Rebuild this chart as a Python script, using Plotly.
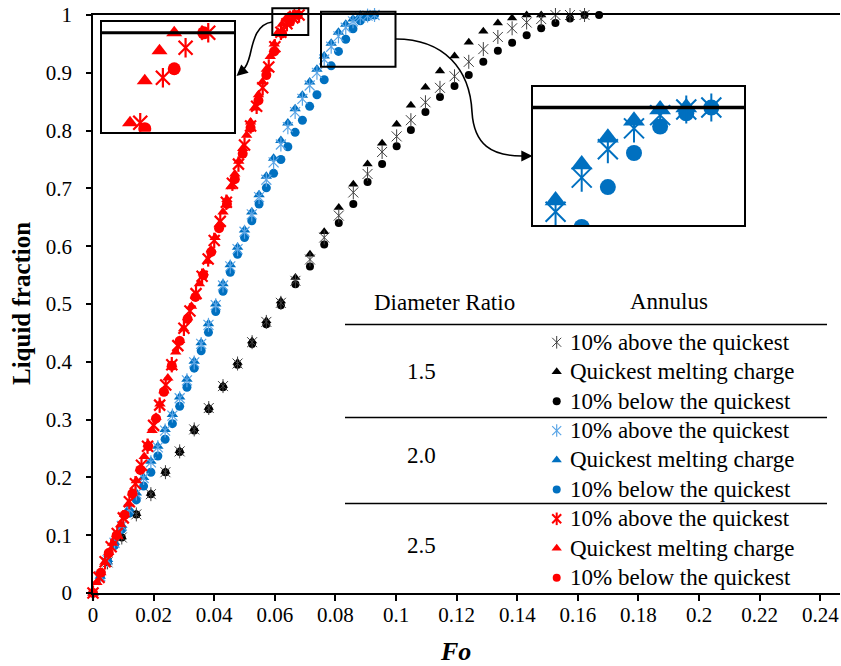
import plotly.graph_objects as go

# ---------------- data ----------------
# Diameter ratio 1.5 (black)
fo_black = [0, 0.0048, 0.0095, 0.0143, 0.0191, 0.0239, 0.0286, 0.0334, 0.0382, 0.0429,
            0.0477, 0.0525, 0.0572, 0.0620, 0.0668, 0.0716, 0.0763, 0.0811, 0.0859, 0.0906,
            0.0954, 0.1002, 0.1049, 0.1097, 0.1145, 0.1193, 0.1240, 0.1288, 0.1336, 0.1383,
            0.1431, 0.1479, 0.1526, 0.1574, 0.1622, 0.1670]
lf_black_above = [0, 0.053, 0.096, 0.136, 0.171, 0.209, 0.245, 0.283, 0.320, 0.358, 0.397, 0.434,
                  0.469, 0.502, 0.540, 0.577, 0.615, 0.653, 0.693, 0.725, 0.763, 0.790, 0.818,
                  0.849, 0.874, 0.894, 0.919, 0.941, 0.962, 0.977, 0.987, 0.993, 1.0, 1.0, 1.0]
lf_black_quick = [0, 0.054, 0.097, 0.137, 0.172, 0.210, 0.246, 0.284, 0.321, 0.359, 0.399, 0.436,
                  0.471, 0.505, 0.546, 0.586, 0.625, 0.667, 0.707, 0.742, 0.778, 0.811, 0.844,
                  0.875, 0.903, 0.929, 0.953, 0.972, 0.986, 0.995, 1.0, 1.0]
lf_black_below = [0, 0.053, 0.096, 0.136, 0.171, 0.209, 0.244, 0.281, 0.318, 0.356, 0.395, 0.431,
                  0.465, 0.498, 0.534, 0.565, 0.603, 0.640, 0.673, 0.711, 0.742, 0.773, 0.801,
                  0.832, 0.858, 0.877, 0.896, 0.919, 0.938, 0.952, 0.965, 0.977, 0.986, 0.994,
                  1.0, 1.0]

# Diameter ratio 2.0 (blue)
fo_blue = [0, 0.0024, 0.0048, 0.0071, 0.0095, 0.0119, 0.0143, 0.0167, 0.0191, 0.0214,
           0.0238, 0.0262, 0.0286, 0.0310, 0.0334, 0.0357, 0.0381, 0.0405, 0.0429, 0.0453,
           0.0477, 0.0500, 0.0524, 0.0548, 0.0572, 0.0596, 0.0620, 0.0643, 0.0667, 0.0691,
           0.0715, 0.0739, 0.0763, 0.0786, 0.0810, 0.0834, 0.0858, 0.0882, 0.0906, 0.0929]
lf_blue_above = [0, 0.029, 0.057, 0.087, 0.116, 0.145, 0.172, 0.199, 0.226, 0.252, 0.281, 0.307,
                 0.337, 0.368, 0.399, 0.431, 0.464, 0.498, 0.532, 0.565, 0.595, 0.625, 0.655,
                 0.685, 0.715, 0.745, 0.776, 0.806, 0.832, 0.855, 0.878, 0.900, 0.923, 0.945,
                 0.963, 0.978, 0.989, 0.996, 0.999, 1.0]
lf_blue_quick = [0, 0.029, 0.058, 0.088, 0.117, 0.146, 0.173, 0.200, 0.228, 0.254, 0.283, 0.309,
                 0.339, 0.370, 0.401, 0.433, 0.466, 0.500, 0.535, 0.568, 0.598, 0.628, 0.659,
                 0.689, 0.721, 0.752, 0.783, 0.813, 0.838, 0.861, 0.884, 0.906, 0.929, 0.951,
                 0.970, 0.984, 0.993, 0.999, 1.0]
lf_blue_below = [0, 0.028, 0.055, 0.082, 0.110, 0.138, 0.161, 0.185, 0.209, 0.237, 0.266, 0.293,
                 0.323, 0.356, 0.389, 0.419, 0.451, 0.487, 0.522, 0.555, 0.586, 0.615, 0.644,
                 0.673, 0.701, 0.726, 0.750, 0.772, 0.797, 0.818, 0.842, 0.862, 0.888, 0.912,
                 0.937, 0.958, 0.976, 0.990, 0.997, 1.0]

# Diameter ratio 2.5 (red)
fo_red_above = [0, 0.002, 0.004, 0.006, 0.008, 0.010, 0.012, 0.014, 0.016, 0.018, 0.020, 0.022,
                0.024, 0.026, 0.028, 0.030, 0.032, 0.034, 0.036, 0.038, 0.040, 0.042, 0.044,
                0.046, 0.048, 0.050, 0.052, 0.054, 0.056, 0.058, 0.060, 0.062, 0.064, 0.066,
                0.068]
lf_red_above = [0, 0.027, 0.054, 0.080, 0.103, 0.130, 0.158, 0.189, 0.221, 0.254, 0.290, 0.325,
                0.360, 0.395, 0.428, 0.458, 0.488, 0.518, 0.548, 0.578, 0.610, 0.643, 0.676,
                0.709, 0.742, 0.775, 0.808, 0.842, 0.874, 0.910, 0.945, 0.970, 0.985, 0.995,
                1.0]
fo_red_quick = [0, 0.0013, 0.0026, 0.0039, 0.0052, 0.0065, 0.0078, 0.0091, 0.0104, 0.0117,
                0.0130, 0.0143, 0.0156, 0.0169, 0.0182, 0.0195, 0.0208, 0.0221, 0.0234, 0.0247,
                0.0260, 0.0273, 0.0286, 0.0299, 0.0312, 0.0325, 0.0338, 0.0351, 0.0364, 0.0377,
                0.0390, 0.0403, 0.0416, 0.0429, 0.0442, 0.0455, 0.0468, 0.0481, 0.0494, 0.0507,
                0.0520, 0.0533, 0.0546, 0.0559, 0.0572, 0.0585, 0.0598, 0.0611, 0.0624, 0.0637,
                0.0650]
lf_red_quick = [0, 0.018, 0.035, 0.053, 0.070, 0.086, 0.101, 0.118, 0.136, 0.154, 0.173, 0.194,
                0.215, 0.236, 0.258, 0.281, 0.304, 0.327, 0.350, 0.372, 0.395, 0.417, 0.437,
                0.457, 0.476, 0.496, 0.515, 0.535, 0.554, 0.574, 0.594, 0.615, 0.637, 0.659,
                0.681, 0.703, 0.725, 0.747, 0.769, 0.792, 0.815, 0.839, 0.862, 0.884, 0.906,
                0.928, 0.950, 0.970, 0.984, 0.994, 1.0]
fo_red_below = [0, 0.0026, 0.0052, 0.0078, 0.0104, 0.0130, 0.0156, 0.0182, 0.0208, 0.0234,
                0.0260, 0.0286, 0.0312, 0.0338, 0.0364, 0.0390, 0.0416, 0.0442, 0.0468, 0.0494,
                0.0520, 0.0546, 0.0572, 0.0598, 0.0624, 0.0650, 0.0676]
lf_red_below = [0, 0.035, 0.069, 0.100, 0.135, 0.172, 0.213, 0.254, 0.302, 0.348, 0.393, 0.436,
                0.474, 0.512, 0.550, 0.590, 0.631, 0.673, 0.716, 0.760, 0.805, 0.852, 0.896,
                0.937, 0.968, 0.988, 1.0]

x_tickvals = [0, 0.02, 0.04, 0.06, 0.08, 0.1, 0.12, 0.14, 0.16, 0.18, 0.2, 0.22, 0.24]
x_ticktext = ["0", "0.02", "0.04", "0.06", "0.08", "0.1", "0.12", "0.14", "0.16", "0.18",
              "0.2", "0.22", "0.24"]
y_tickvals = [0, 0.1, 0.2, 0.3, 0.4, 0.5, 0.6, 0.7, 0.8, 0.9, 1]
y_ticktext = ["0", "0.1", "0.2", "0.3", "0.4", "0.5", "0.6", "0.7", "0.8", "0.9", "1"]

ratio_labels = ["1.5", "2.0", "2.5"]
series_labels = ["10% above the quickest", "Quickest melting charge", "10% below the quickest"]
x_title = "Fo"
y_title = "Liquid fraction"
head_left = "Diameter Ratio"
head_right = "Annulus"

# ---------------- styling / geometry ----------------
SERIF = "Liberation Serif"
W, H = 841, 666
ML, MR, MT, MB = 93, 1, 15, 73
PW, PH = W - ML - MR, H - MT - MB
X_MAX = 0.2465
LEG_FONT = 23

BLACK_AST = "#404040"
BLACK = "#000000"
BLUE_AST = "#5AA5E6"
BLUE = "#0070C0"
RED = "#FF0000"


def pxx(px):
    return (px - ML) / PW


def pxy(py):
    return (H - MB - py) / PH


def data_x(px):
    return pxx(px) * X_MAX


def data_y(py):
    return pxy(py)


def path_px(cmds):
    out = []
    for c in cmds:
        if isinstance(c, str):
            out.append(c)
        else:
            out.append("%.5f,%.5f" % (pxx(c[0]), pxy(c[1])))
    return " ".join(out)


fig = go.Figure()


def add_marks(x, y, kind, color, size, xa="x", ya="y", clip=False, lw=1.2):
    if kind == "above":
        for sym in ("x-thin-open", "line-ns-open"):
            fig.add_trace(go.Scatter(
                x=x, y=y, mode="markers", xaxis=xa, yaxis=ya, cliponaxis=clip,
                marker=dict(symbol=sym, size=size, color=color,
                            line=dict(color=color, width=lw)),
                showlegend=False, hoverinfo="skip"))
    else:
        sym = "triangle-up" if kind == "quick" else "circle"
        fig.add_trace(go.Scatter(
            x=x, y=y, mode="markers", xaxis=xa, yaxis=ya, cliponaxis=clip,
            marker=dict(symbol=sym, size=size, color=color, line=dict(width=0)),
            showlegend=False, hoverinfo="skip"))


groups = [
    dict(x_above=fo_black[:len(lf_black_above)], y_above=lf_black_above,
         x_quick=fo_black[:len(lf_black_quick)], y_quick=lf_black_quick,
         x_below=fo_black[:len(lf_black_below)], y_below=lf_black_below,
         c_ast=BLACK_AST, c=BLACK, s_ast=10, s_tri=9, s_cir=8, lw=1.0),
    dict(x_above=fo_blue[:len(lf_blue_above)], y_above=lf_blue_above,
         x_quick=fo_blue[:len(lf_blue_quick)], y_quick=lf_blue_quick,
         x_below=fo_blue[:len(lf_blue_below)], y_below=lf_blue_below,
         c_ast=BLUE_AST, c=BLUE, s_ast=10, s_tri=10, s_cir=9, lw=1.2),
    dict(x_above=fo_red_above, y_above=lf_red_above,
         x_quick=fo_red_quick, y_quick=lf_red_quick,
         x_below=fo_red_below, y_below=lf_red_below,
         c_ast=RED, c=RED, s_ast=11, s_tri=10, s_cir=10, lw=2.2),
]

# main plot
for g in groups:
    add_marks(g["x_below"], g["y_below"], "below", g["c"], g["s_cir"])
    add_marks(g["x_quick"], g["y_quick"], "quick", g["c"], g["s_tri"])
    add_marks(g["x_above"], g["y_above"], "above", g["c_ast"], g["s_ast"], lw=g["lw"])

# insets (red -> x2/y2, blue -> x3/y3)
gr = groups[2]
add_marks(gr["x_below"], gr["y_below"], "below", RED, 13, "x2", "y2", True)
add_marks(gr["x_quick"], gr["y_quick"], "quick", RED, 14, "x2", "y2", True)
add_marks(gr["x_above"], gr["y_above"], "above", RED, 14, "x2", "y2", True, lw=2.2)
gb = groups[1]
add_marks(gb["x_below"], gb["y_below"], "below", BLUE, 16, "x3", "y3", True)
add_marks(gb["x_quick"], gb["y_quick"], "quick", BLUE, 19, "x3", "y3", True)
add_marks(gb["x_above"], gb["y_above"], "above", BLUE, 20, "x3", "y3", True, lw=2.0)

# legend table markers (drawn on the main axes)
LEG_MARK_PX = 556.7
LEG_TEXT_PX = 568
ROW0, ROW_STEP = 342.3, 29.42
leg_colors = [(BLACK_AST, BLACK, 1.0), (BLUE_AST, BLUE, 1.2), (RED, RED, 2.0)]
row = 0
for gi in range(3):
    ca, c, lw = leg_colors[gi]
    for kind in ("above", "quick", "below"):
        py = ROW0 + row * ROW_STEP
        size = {"above": 9, "quick": 9, "below": 8}[kind]
        add_marks([data_x(LEG_MARK_PX)], [data_y(py)], kind,
                  ca if kind == "above" else c, size, lw=lw)
        row += 1

annotations = []
shapes = []
row = 0
for gi in range(3):
    for si in range(3):
        py = ROW0 + row * ROW_STEP
        annotations.append(dict(x=pxx(LEG_TEXT_PX), y=pxy(py), xref="paper", yref="paper",
                                text=series_labels[si], showarrow=False, xanchor="left",
                                yanchor="middle",
                                font=dict(family=SERIF, size=LEG_FONT, color="black")))
        row += 1

for lab, py in zip(ratio_labels, [371.7, 455.7, 545.0]):
    annotations.append(dict(x=pxx(421), y=pxy(py), xref="paper", yref="paper", text=lab,
                            showarrow=False, xanchor="center", yanchor="middle",
                            font=dict(family=SERIF, size=LEG_FONT, color="black")))
annotations.append(dict(x=pxx(444.3), y=pxy(302.7), xref="paper", yref="paper", text=head_left,
                        showarrow=False, xanchor="center", yanchor="middle",
                        font=dict(family=SERIF, size=LEG_FONT, color="black")))
annotations.append(dict(x=pxx(669), y=pxy(301.7), xref="paper", yref="paper", text=head_right,
                        showarrow=False, xanchor="center", yanchor="middle",
                        font=dict(family=SERIF, size=LEG_FONT, color="black")))

for py in (324.5, 417.5, 503.5):
    shapes.append(dict(type="line", xref="paper", yref="paper", x0=pxx(345), x1=pxx(827),
                       y0=pxy(py), y1=pxy(py), line=dict(color="black", width=1.6)))

# axis titles
annotations.append(dict(x=pxx(455), y=pxy(651), xref="paper", yref="paper",
                        text="<b><i>%s</i></b>" % x_title, showarrow=False,
                        xanchor="center", yanchor="middle",
                        font=dict(family=SERIF, size=26, color="black")))
annotations.append(dict(x=pxx(21), y=pxy(304), xref="paper", yref="paper",
                        text="<b>%s</b>" % y_title, showarrow=False, textangle=-90,
                        xanchor="center", yanchor="middle",
                        font=dict(family=SERIF, size=25, color="black")))

# source boxes in main plot
shapes.append(dict(type="rect", xref="paper", yref="paper", x0=pxx(272.3), x1=pxx(308.3),
                   y0=pxy(35), y1=pxy(8.3), line=dict(color="black", width=2)))
shapes.append(dict(type="rect", xref="paper", yref="paper", x0=pxx(321), x1=pxx(395.5),
                   y0=pxy(66.7), y1=pxy(11.7), line=dict(color="black", width=2)))

# y = 1 thick lines inside insets
shapes.append(dict(type="line", xref="x2 domain", yref="y2", x0=0, x1=1, y0=1, y1=1,
                   line=dict(color="black", width=3)))
shapes.append(dict(type="line", xref="x3 domain", yref="y3", x0=0, x1=1, y0=1, y1=1,
                   line=dict(color="black", width=3.5)))

# curved connector arrows
shapes.append(dict(type="path", xref="paper", yref="paper",
                   path=path_px(["M", (272.3, 22), "C", (256, 24), (253, 42), (250, 55),
                                 "C", (248, 63), (246, 67), (243, 70)]),
                   line=dict(color="black", width=1.6)))
shapes.append(dict(type="path", xref="paper", yref="paper",
                   path=path_px(["M", (395.5, 39), "C", (445, 39), (470, 70), (472, 112),
                                 "C", (474, 145), (492, 156), (522, 156)]),
                   line=dict(color="black", width=1.6)))
annotations.append(dict(x=pxx(236.5), y=pxy(76), xref="paper", yref="paper", text="",
                        showarrow=True, ax=8, ay=-7, arrowhead=2, arrowsize=1.4,
                        arrowwidth=1.6, arrowcolor="black"))
annotations.append(dict(x=pxx(532.5), y=pxy(156), xref="paper", yref="paper", text="",
                        showarrow=True, ax=-12, ay=0, arrowhead=2, arrowsize=1.4,
                        arrowwidth=1.6, arrowcolor="black"))

inset_axis = dict(showline=True, mirror=True, linecolor="black", linewidth=2,
                  showticklabels=False, ticks="", showgrid=False, zeroline=False,
                  fixedrange=True)

fig.update_layout(
    width=W, height=H, margin=dict(l=ML, r=MR, t=MT, b=MB),
    plot_bgcolor="white", paper_bgcolor="white", showlegend=False,
    font=dict(family=SERIF, color="black"),
    xaxis=dict(range=[0, X_MAX], tickvals=x_tickvals, ticktext=x_ticktext, ticks="outside",
               ticklen=6, tickwidth=1.5, tickcolor="black", showline=True,
               linecolor="black", linewidth=1.5, mirror=True, showgrid=False, zeroline=False,
               ticklabelstandoff=-4,
               tickfont=dict(family=SERIF, size=21, color="black")),
    yaxis=dict(range=[0, 1], tickvals=y_tickvals, ticktext=y_ticktext, ticks="outside",
               ticklen=5, tickwidth=1.5, tickcolor="black", showline=True,
               linecolor="black", linewidth=1.5, showgrid=False, zeroline=False,
               ticklabelstandoff=10,
               tickfont=dict(family=SERIF, size=21, color="black")),
    xaxis2=dict(inset_axis, domain=[pxx(101.7), pxx(234.3)], anchor="y2",
                range=[0.0586, 0.0703]),
    yaxis2=dict(inset_axis, domain=[pxy(131.7), pxy(21.7)], anchor="x2",
                range=[0.967, 1.0037]),
    xaxis3=dict(inset_axis, domain=[pxx(532.7), pxx(744)], anchor="y3",
                range=[0.0765, 0.0959]),
    yaxis3=dict(inset_axis, domain=[pxy(225), pxy(87.3)], anchor="x3",
                range=[0.938, 1.0107]),
    annotations=annotations,
    shapes=shapes,
)

fig.write_html("out.html")
